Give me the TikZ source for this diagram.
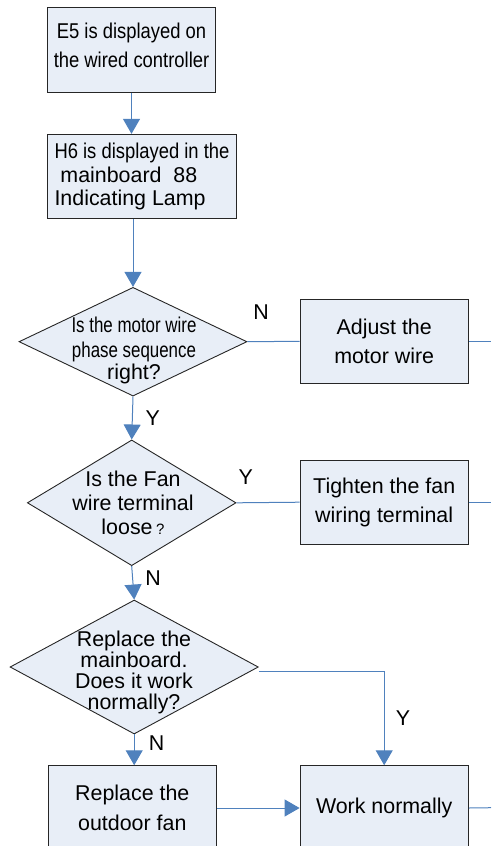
\documentclass[tikz,border=0pt]{standalone}
\usepackage{fontspec}
\setmainfont{Liberation Sans}
\newfontfamily\condA{Liberation Sans}[FakeStretch=0.86]
\newfontfamily\condB{Liberation Sans}[FakeStretch=0.79]
\usetikzlibrary{arrows.meta,shapes.geometric,calc}
\definecolor{fillblue}{RGB}{232,238,247}
\definecolor{lineblue}{RGB}{79,129,189}
\newcommand{\fsz}[1]{\fontsize{21.4}{#1}\selectfont}
\tikzset{
  procbox/.style={draw=black!85, line width=0.9pt, fill=fillblue, inner sep=0pt, align=center},
  decbox/.style={draw=black!85, line width=0.9pt, fill=fillblue, diamond, inner sep=0pt, aspect=2},
  lbl/.style={inner sep=0pt, font=\fsz{24}},
  txt/.style={inner sep=0pt, align=center},
  conn/.style={draw=lineblue, line width=1pt},
  arr/.style={conn, -{Triangle[length=15pt,width=17pt]}},
}
\begin{document}
\begin{tikzpicture}[x=1pt,y=-1pt]
\useasboundingbox (0,0) rectangle (491,846);
\clip (0,0) rectangle (491,846);
% boxes
\node[procbox, minimum width=168.4pt, minimum height=84.7pt, font=\fsz{28.7}] (b1) at (131.5,49.7)
  {{\condA E5 is displayed on}\\{\condA the wired controller}\\[-20pt]};
\node[procbox, minimum width=189.4pt, minimum height=84.4pt, align=left, font=\fsz{23.6}] (b2) at (142,176.5)
  {{\condA H6 is displayed in the}\\\ mainboard\ \ 88\\Indicating Lamp\hspace{6pt}};
% diamonds
\node[decbox, minimum width=228pt, minimum height=108.7pt] (d1) at (133,341.7) {};
\node[txt, font=\fsz{25}] (t1) at (134,350) {{\condB Is the motor wire}\\{\condB phase sequence}\\[-3pt]right?};
\node[procbox, minimum width=168.3pt, minimum height=84.7pt, font=\fsz{29.3}] (adj) at (384.2,341.3)
  {Adjust the\\motor wire};
\node[decbox, minimum width=208.7pt, minimum height=125.7pt] (d2) at (131.7,502.8) {};
\node[txt, font=\fsz{24}] (t2) at (133,503) {Is the Fan\\wire terminal\\loose\,{\fontsize{15}{15}\selectfont ?}};
\node[procbox, minimum width=168.3pt, minimum height=84.3pt, font=\fsz{29}] (tig) at (384.2,502.2)
  {Tighten the fan\\wiring terminal};
\node[decbox, minimum width=248.3pt, minimum height=134pt] (d3) at (134.2,667) {};
\node[txt, font=\fsz{21}] (t3) at (134,672) {Replace the\\mainboard.\\Does it work\\normally?};
\node[procbox, minimum width=168pt, minimum height=84.6pt, font=\fsz{29.4}] (rep) at (132.3,808)
  {Replace the\\outdoor fan};
\node[procbox, minimum width=168.3pt, minimum height=84.6pt, font=\fsz{29}] (work) at (384.2,808)
  {Work normally};
% free ends
\coordinate (e1) at (491,341.3);
\coordinate (e2) at (491,502.2);
\coordinate (e3) at (491,807.7);
% connectors
\draw[arr] (b1.south) -- (b1.south |- b2.north);
\draw[arr] (b2.south -| d1.north) -- (d1.north);
\draw[conn] (d1.east) -- (adj.west);
\draw[conn] (adj.east) -- (e1);
\draw[arr] (d1.south) -- (d2.north);
\draw[conn] (d2.east) -- (tig.west);
\draw[conn] (tig.east) -- (e2);
\draw[arr] (d2.south) -- (d3.north);
\draw[arr] (d3.south) -- (rep.north -| d3.south);
\draw[arr] ([yshift=-4pt]d3.east) -| (work.north);
\draw[arr] (rep.east |- work.west) -- (work.west);
\draw[conn] (work.east) -- (e3);
% labels
\node[lbl] (n1) at (261,311.7) {N};
\node[lbl] (y1) at (152.7,418.3) {Y};
\node[lbl] (y2) at (245.7,477.3) {Y};
\node[lbl] (n2) at (153,578) {N};
\node[lbl] (y3) at (403,718.3) {Y};
\node[lbl] (n3) at (156.7,743.3) {N};
\end{tikzpicture}
\end{document}
